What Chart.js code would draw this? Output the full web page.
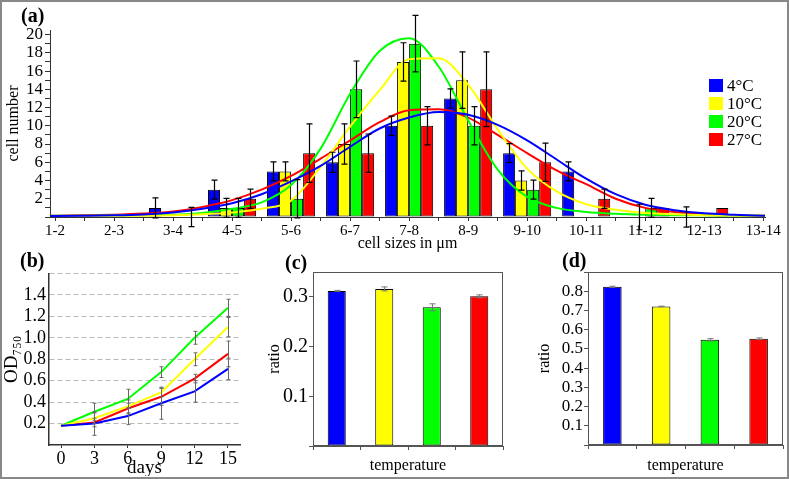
<!DOCTYPE html>
<html><head><meta charset="utf-8">
<script src="https://cdn.jsdelivr.net/npm/chart.js@4.4.0/dist/chart.umd.min.js"></script>
<style>
html,body{margin:0;padding:0;background:#fff;}
#fig{position:relative;width:789px;height:479px;overflow:hidden;background:#fff;font-family:"Liberation Serif","Times New Roman",serif;color:#000;}
#frame{position:absolute;left:0;top:0;width:785px;height:475px;border:2px solid #888;pointer-events:none;}
canvas{position:absolute;}
.plabel{position:absolute;font-weight:bold;font-size:20px;line-height:20px;white-space:nowrap;}
#legA{position:absolute;left:709px;top:78px;font-size:17px;}
.li{height:15px;margin-bottom:3px;display:flex;align-items:center;white-space:nowrap;}
.sw{width:14px;height:13px;margin-right:4px;flex:none;}
</style></head>
<body>
<div id="fig">
  <canvas id="ca" width="789" height="252" style="left:0;top:0"></canvas>
  <canvas id="cb" width="252" height="226" style="left:0;top:250px"></canvas>
  <canvas id="cc" width="260" height="226" style="left:255px;top:250px"></canvas>
  <canvas id="cd" width="264" height="226" style="left:525px;top:250px"></canvas>
  <div class="plabel" style="left:21px;top:5px">(a)</div>
  <div class="plabel" style="left:20px;top:250px">(b)</div>
  <div class="plabel" style="left:285px;top:252px">(c)</div>
  <div class="plabel" style="left:562px;top:250px">(d)</div>
  <div id="legA"></div>
  <div id="frame"></div>
</div>
<script>
// ---------- data ----------
const sizeClasses = ['1-2','2-3','3-4','4-5','5-6','6-7','7-8','8-9','9-10','10-11','11-12','12-13','13-14'];
const temperatures = ['4°C','10°C','20°C','27°C'];

const cells4  = [0,0,1,3,5,6,10,13,7,5,0,0,0];
const cells10 = [0,0,0,1,5,8,17,15,4,0,0,0,0];
const cells20 = [0,0,0,1,2,14,19,10,3,0,1,0,0];
const cells27 = [0,0,0,2,7,7,10,14,6,2,1,1,0];
const cellsErr4  = [0,0,1.1,1.05,1.05,1.1,1.05,1.05,1.05,1.05,0,1.1,0];
const cellsErr10 = [0,0,0,1.05,1.05,2.2,2.1,3.1,1.05,0,1.4,0,0];
const cellsErr20 = [0,0,0,1.05,2.1,3.1,3.1,2.1,1.05,0,1.05,0,0];
const cellsErr27 = [0,0,1.05,1.05,3.2,2.1,2.1,4.1,2.1,1.05,0,0,0];

// fitted curves, positions in size-class units
const fitPos = [-0.085,0,0.5,1,1.5,2,2.5,3,3.5,4,4.5,5,5.5,6,6.5,7,7.5,8,8.5,9,9.5,10,10.5,11,11.5,12,12.03];
const fit4  = [0.12,0.12,0.14,0.18,0.28,0.5,0.9,1.5,2.5,3.9,5.6,7.7,9.7,10.9,11.5,11.2,10.1,8.4,6.3,4.2,2.5,1.35,0.75,0.4,0.25,0.15,0.15];
const fit10 = [0.12,0.12,0.12,0.13,0.15,0.2,0.3,0.5,0.9,1.8,5.5,9.9,13.9,17.3,17.4,14.5,9.6,5.3,2.8,1.4,0.8,0.45,0.3,0.2,0.16,0.15,0.15];
const fit20 = [0.15,0.15,0.15,0.17,0.2,0.25,0.45,0.9,1.6,3.5,7.5,13.5,18.2,19.6,16.5,10.6,5.2,2.2,1.0,0.55,0.35,0.25,0.2,0.18,0.16,0.15,0.15];
const fit27 = [0.15,0.15,0.18,0.25,0.38,0.6,1.1,1.85,3.0,4.5,6.4,8.4,10.4,11.7,11.8,10.9,9.0,7.0,5.1,3.6,2.0,1.0,0.55,0.3,0.2,0.15,0.15];

const days = [0,3,6,9,12,15];
const od4  = [0.18,0.20,0.27,0.39,0.50,0.71];
const od10 = [0.18,0.25,0.36,0.49,0.80,1.10];
const od20 = [0.18,0.31,0.43,0.68,1.00,1.28];
const od27 = [0.18,0.21,0.34,0.45,0.62,0.85];
const odErr4  = [0,0.11,0.08,0.15,0.10,0.10];
const odErr10 = [0,0.05,0.06,0.04,0.06,0.09];
const odErr20 = [0,0.08,0.09,0.05,0.06,0.08];
const odErr27 = [0,0.04,0.05,0.08,0.04,0.12];

const ratioC = [0.312,0.316,0.279,0.301];
const ratioErrC = [0.001,0.004,0.007,0.003];
const ratioD = [0.823,0.721,0.547,0.553];
const ratioErrD = [0.003,0.001,0.006,0.004];

// ---------- styling ----------
const seriesColors = ['#0000ff','#ffff00','#00ff00','#ff0000'];
const AXIS = '#333333';
Chart.defaults.font.family = '"Liberation Serif","Times New Roman",serif';
Chart.defaults.color = '#000';

const errorBarPlugin = {
  id: 'errbars',
  afterDatasetsDraw(chart, args, opts) {
    const ctx = chart.ctx;
    const yScale = chart.scales.y;
    chart.data.datasets.forEach((ds, di) => {
      if (!ds.errorBars) return;
      const meta = chart.getDatasetMeta(di);
      if (meta.hidden) return;
      ctx.save();
      ctx.strokeStyle = opts.color || '#000';
      ctx.lineWidth = opts.width || 1;
      const c = opts.cap || 3;
      meta.data.forEach((el, i) => {
        const e = ds.errorBars[i];
        if (!e) return;
        const v = meta.controller.getParsed(i).y;
        const x = Math.round(el.x) + 0.5;
        const yT = yScale.getPixelForValue(v + e);
        const yB = yScale.getPixelForValue(v - e);
        ctx.beginPath();
        ctx.moveTo(x, yT); ctx.lineTo(x, yB);
        ctx.moveTo(x - c, yT); ctx.lineTo(x + c, yT);
        ctx.moveTo(x - c, yB); ctx.lineTo(x + c, yB);
        ctx.stroke();
      });
      ctx.restore();
    });
  }
};
const framePlugin = {
  id: 'frame',
  afterDraw(chart, args, opts) {
    const {left, top, right, bottom} = chart.chartArea;
    const ctx = chart.ctx;
    ctx.save();
    ctx.strokeStyle = opts.color || AXIS;
    ctx.lineWidth = 1;
    ctx.strokeRect(Math.round(left) + 0.5, Math.round(top) + 0.5, Math.round(right - left) - 1, Math.round(bottom - top) - 1);
    ctx.restore();
  }
};
const fixW = w => (s) => { s.width = w; };
const fixH = h => (s) => { s.height = h; };
const base = { responsive: false, animation: false, devicePixelRatio: 1, events: [] };

// ---------- panel (a) ----------
const cellSeries = [cells4, cells10, cells20, cells27];
const cellErrs = [cellsErr4, cellsErr10, cellsErr20, cellsErr27];
const fits = [fit4, fit10, fit20, fit27];
const dsA = [];
cellSeries.forEach((arr, k) => {
  dsA.push({
    type: 'bar', label: temperatures[k],
    data: arr.map((v, i) => ({x: i, y: v})),
    errorBars: cellErrs[k],
    backgroundColor: seriesColors[k], borderColor: '#000', borderWidth: 1, borderSkipped: false,
    categoryPercentage: 1.63, barPercentage: 1.0, order: 2
  });
});
fits.forEach((arr, k) => {
  dsA.push({
    type: 'line', label: temperatures[k] + ' fit',
    data: arr.map((v, i) => ({x: fitPos[i], y: v})),
    borderColor: seriesColors[k], borderWidth: 2, pointRadius: 0,
    cubicInterpolationMode: 'monotone', fill: false, order: 1
  });
});
new Chart(document.getElementById('ca'), {
  type: 'bar',
  data: { datasets: dsA },
  plugins: [errorBarPlugin],
  options: Object.assign({}, base, {
    layout: { padding: {left: 0, right: 24, top: 30, bottom: 0} },
    plugins: { legend: {display: false}, tooltip: {enabled: false}, errbars: {color: '#000', width: 1.2, cap: 3} },
    scales: {
      x: {
        type: 'linear', min: -0.085, max: 12.03, offset: false,
        afterFit: fixH(35),
        grid: { display: true, drawOnChartArea: false, drawTicks: true, tickLength: 4, color: AXIS, offset: false },
        border: { display: true, color: AXIS, width: 1 },
        ticks: {
          stepSize: 0.5, includeBounds: false, autoSkip: false, maxRotation: 0, minRotation: 0,
          padding: 1, font: {size: 15},
          callback: (v) => Math.abs(v - Math.round(v)) < 1e-6 ? sizeClasses[Math.round(v)] : ''
        },
        title: { display: true, text: 'cell sizes in μm', font: {size: 16}, padding: {top: 0, bottom: -1} }
      },
      y: {
        min: 0, max: 20.5,
        afterFit: fixW(50),
        grid: { display: true, drawOnChartArea: false, drawTicks: true, tickLength: 5, color: AXIS },
        border: { display: true, color: AXIS, width: 1 },
        ticks: {
          stepSize: 1, includeBounds: false, autoSkip: false, padding: 2, font: {size: 17},
          callback: (v) => (v > 0 && Math.round(v) % 2 === 0) ? String(Math.round(v)) : ''
        },
        title: { display: true, text: 'cell number', font: {size: 16}, padding: {top: 4, bottom: 0} }
      }
    }
  })
});

// legend (a)
const leg = document.getElementById('legA');
temperatures.forEach((t, k) => {
  const row = document.createElement('div'); row.className = 'li';
  const sw = document.createElement('span'); sw.className = 'sw'; sw.style.background = seriesColors[k];
  const tx = document.createElement('span'); tx.textContent = t;
  row.appendChild(sw); row.appendChild(tx); leg.appendChild(row);
});

// ---------- panel (b) ----------
const odSeries = [od4, od10, od20, od27];
const odErrs = [odErr4, odErr10, odErr20, odErr27];
new Chart(document.getElementById('cb'), {
  type: 'line',
  data: {
    datasets: odSeries.map((arr, k) => ({
      label: temperatures[k],
      data: arr.map((v, i) => ({x: days[i], y: v})),
      errorBars: odErrs[k],
      borderColor: seriesColors[k], borderWidth: 2, pointRadius: 0, tension: 0, fill: false
    }))
  },
  plugins: [errorBarPlugin],
  options: Object.assign({}, base, {
    layout: { padding: {left: 0, right: 12, top: 23.5, bottom: 0} },
    plugins: { legend: {display: false}, tooltip: {enabled: false}, errbars: {color: '#666', width: 1, cap: 2} },
    scales: {
      x: {
        type: 'linear', min: -1.08, max: 16.08,
        afterFit: fixH(31),
        grid: { display: true, drawOnChartArea: false, drawTicks: true, tickLength: 3, color: AXIS },
        border: { display: true, color: AXIS, width: 1.5 },
        ticks: { stepSize: 3, includeBounds: false, autoSkip: false, maxRotation: 0, padding: 0, font: {size: 18} },
        title: { display: true, text: 'days', font: {size: 19}, padding: {top: 0, bottom: -3} }
      },
      y: {
        min: 0, max: 1.6,
        afterFit: fixW(49),
        grid: { display: true, drawOnChartArea: true, drawTicks: false, color: (c) => c.tick && c.tick.value > 0.01 ? '#b8b8b8' : 'rgba(0,0,0,0)' },
        border: { display: true, color: AXIS, width: 1.5, dash: [5, 3] },
        ticks: {
          stepSize: 0.2, includeBounds: false, autoSkip: false, padding: 3, font: {size: 18},
          callback: (v) => (v > 0.05 && v < 1.5) ? v.toFixed(1) : ''
        },
        title: { display: true, text: 'OD₇₅₀', font: {size: 19}, padding: {top: 1, bottom: 0} }
      }
    }
  })
});

// ---------- panels (c) and (d) ----------
function ratioChart(id, values, errs, maxV, yW, xH, padR, tickFont, hideTop) {
  return new Chart(document.getElementById(id), {
    type: 'bar',
    data: {
      labels: temperatures,
      datasets: [{
        label: 'ratio', data: values, errorBars: errs,
        backgroundColor: seriesColors, borderColor: '#000', borderWidth: 1, borderSkipped: false,
        categoryPercentage: 1.0, barPercentage: 0.38
      }]
    },
    plugins: [errorBarPlugin, framePlugin],
    options: Object.assign({}, base, {
      layout: { padding: {left: 0, right: padR, top: 22, bottom: 0} },
      plugins: { legend: {display: false}, tooltip: {enabled: false}, errbars: {color: '#777', width: 1, cap: 3}, frame: {color: '#555'} },
      scales: {
        x: {
          afterFit: fixH(xH),
          grid: { display: true, drawOnChartArea: false, drawTicks: true, tickLength: 4, color: '#555', offset: true },
          border: { display: true, color: '#555', width: 1 },
          ticks: { display: false },
          title: { display: true, text: 'temperature', font: {size: 16}, padding: {top: 0, bottom: 1} }
        },
        y: {
          min: 0, max: maxV,
          afterFit: fixW(yW),
          grid: { display: true, drawOnChartArea: false, drawTicks: true, tickLength: 4, color: '#555' },
          border: { display: true, color: '#555', width: 1 },
          ticks: {
            stepSize: 0.1, includeBounds: false, autoSkip: false, padding: 1, font: {size: tickFont},
            callback: (v) => (v > 0.05 && v < hideTop) ? v.toFixed(1) : ''
          },
          title: { display: true, text: 'ratio', font: {size: 16}, padding: {top: 10, bottom: 0} }
        }
      }
    })
  });
}
ratioChart('cc', ratioC, ratioErrC, 0.35, 58, 30, 12, 20, 0.34);
ratioChart('cd', ratioD, ratioErrD, 0.9, 63, 31, 6, 17, 0.85);
</script>
</body></html>
